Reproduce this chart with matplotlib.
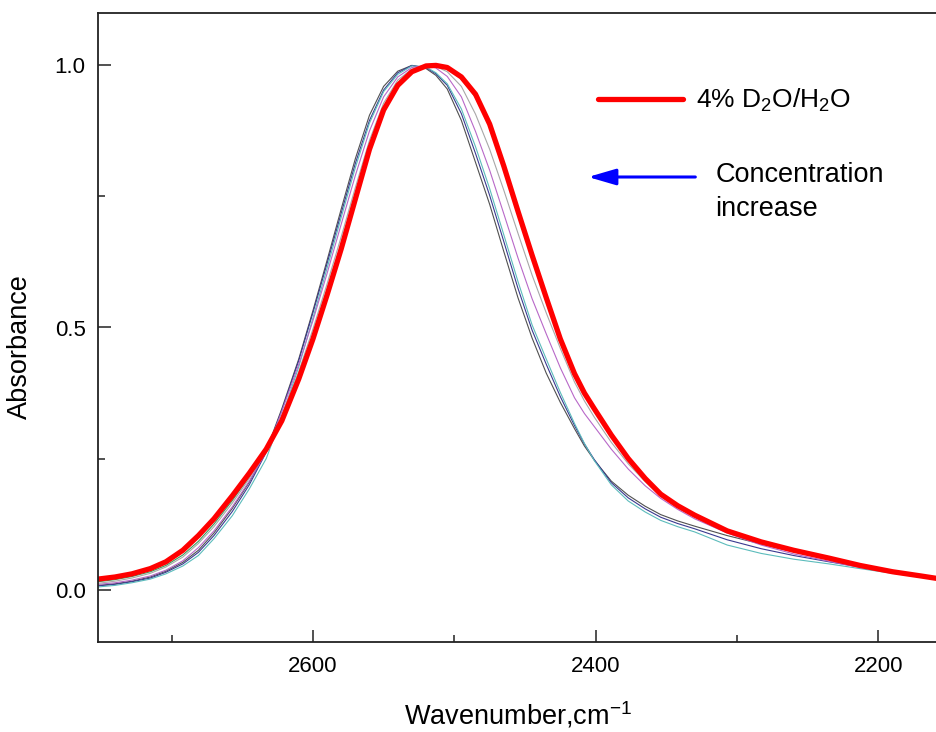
import numpy as np
import matplotlib
matplotlib.use("Agg")
import matplotlib.pyplot as plt

plt.rcParams['font.family'] = ['Liberation Sans', 'DejaVu Sans']
plt.rcParams['mathtext.fontset'] = 'custom'
plt.rcParams['mathtext.rm'] = 'Liberation Sans'
plt.rcParams['mathtext.it'] = 'Liberation Sans:italic'
plt.rcParams['mathtext.bf'] = 'Liberation Sans:bold'

# Wavenumber grid (cm^-1)
wavenumber = [2752, 2740, 2728, 2715, 2704, 2692, 2681, 2670, 2657, 2645, 2633, 2622, 2610,
              2600, 2590, 2580, 2570, 2560, 2550, 2540, 2530, 2520, 2513, 2505, 2495, 2485,
              2475, 2465, 2455, 2445, 2435, 2425, 2415, 2408, 2401, 2389, 2377, 2365, 2354,
              2342, 2330, 2307, 2283, 2260, 2235, 2213, 2190, 2170, 2158]

abs_black = [0.008, 0.011, 0.016, 0.024, 0.035, 0.052, 0.075, 0.108, 0.155, 0.205, 0.265, 0.345, 0.440,
             0.532, 0.628, 0.726, 0.822, 0.905, 0.960, 0.989, 1.000, 0.994, 0.981, 0.955, 0.895, 0.815,
             0.735, 0.645, 0.557, 0.480, 0.413, 0.357, 0.307, 0.274, 0.247, 0.207, 0.180, 0.159, 0.143,
             0.131, 0.121, 0.103, 0.087, 0.072, 0.058, 0.045, 0.034, 0.026, 0.021]
abs_navy = [0.007, 0.010, 0.015, 0.022, 0.033, 0.049, 0.071, 0.103, 0.149, 0.200, 0.262, 0.342, 0.437,
            0.528, 0.622, 0.718, 0.813, 0.895, 0.953, 0.986, 1.000, 0.996, 0.984, 0.962, 0.908, 0.832,
            0.752, 0.664, 0.575, 0.495, 0.430, 0.368, 0.313, 0.278, 0.248, 0.204, 0.175, 0.154, 0.138,
            0.126, 0.116, 0.095, 0.078, 0.065, 0.053, 0.043, 0.033, 0.025, 0.020]
abs_cyan = [0.005, 0.008, 0.013, 0.020, 0.030, 0.045, 0.065, 0.097, 0.141, 0.192, 0.250, 0.330, 0.425,
            0.518, 0.613, 0.710, 0.805, 0.890, 0.950, 0.983, 0.999, 0.997, 0.986, 0.965, 0.917, 0.845,
            0.765, 0.677, 0.588, 0.505, 0.440, 0.376, 0.317, 0.279, 0.246, 0.200, 0.169, 0.148, 0.132,
            0.120, 0.110, 0.085, 0.069, 0.058, 0.049, 0.040, 0.031, 0.024, 0.020]
abs_magenta = [0.010, 0.013, 0.018, 0.026, 0.037, 0.055, 0.080, 0.112, 0.158, 0.207, 0.263, 0.340, 0.430,
               0.513, 0.603, 0.697, 0.790, 0.875, 0.940, 0.978, 0.996, 1.000, 0.995, 0.979, 0.940, 0.874,
               0.800, 0.717, 0.633, 0.555, 0.488, 0.423, 0.366, 0.336, 0.311, 0.268, 0.230, 0.198, 0.174,
               0.153, 0.135, 0.108, 0.085, 0.068, 0.054, 0.042, 0.032, 0.025, 0.020]
abs_gray = [0.012, 0.016, 0.022, 0.031, 0.043, 0.062, 0.088, 0.120, 0.165, 0.212, 0.265, 0.333, 0.416,
            0.497, 0.583, 0.673, 0.767, 0.857, 0.928, 0.972, 0.993, 1.000, 0.998, 0.988, 0.960, 0.907,
            0.840, 0.762, 0.680, 0.600, 0.528, 0.460, 0.396, 0.360, 0.329, 0.281, 0.240, 0.206, 0.179,
            0.157, 0.139, 0.110, 0.089, 0.073, 0.058, 0.045, 0.034, 0.026, 0.021]
abs_green = [0.015, 0.019, 0.025, 0.034, 0.046, 0.066, 0.092, 0.125, 0.170, 0.216, 0.266, 0.325, 0.404,
             0.482, 0.565, 0.654, 0.750, 0.848, 0.920, 0.966, 0.990, 1.000, 0.999, 0.994, 0.974, 0.939,
             0.883, 0.804, 0.718, 0.634, 0.553, 0.476, 0.410, 0.373, 0.343, 0.292, 0.248, 0.210, 0.181,
             0.159, 0.141, 0.111, 0.090, 0.074, 0.059, 0.046, 0.034, 0.026, 0.021]
abs_red = [0.020, 0.024, 0.030, 0.040, 0.053, 0.075, 0.103, 0.135, 0.179, 0.222, 0.268, 0.322, 0.402,
           0.478, 0.562, 0.650, 0.745, 0.840, 0.915, 0.962, 0.988, 0.999, 1.000, 0.996, 0.978, 0.945,
           0.888, 0.808, 0.722, 0.638, 0.557, 0.478, 0.412, 0.375, 0.345, 0.295, 0.250, 0.212, 0.182,
           0.160, 0.142, 0.112, 0.091, 0.075, 0.060, 0.046, 0.034, 0.026, 0.021]

thin_series = [(abs_black, '#505050'), (abs_navy, '#3a3a90'), (abs_cyan, '#5cbcbc'),
               (abs_magenta, '#b868c8'), (abs_gray, '#a8a8a8'), (abs_green, '#3c9c5c')]

legend_label = '4% D$\\mathregular{_2}$O/H$\\mathregular{_2}$O'
arrow_label = 'Concentration\nincrease'
x_ticks = [2600, 2400, 2200]
y_ticks = [0.0, 0.5, 1.0]

fig = plt.figure(figsize=(9.36, 7.32), dpi=100)
ax = fig.add_axes([98/936, 1 - 642/732, (936 - 98)/936 + 0.002, (642 - 13)/732])

for vals, col in thin_series:
    ax.plot(wavenumber, vals, color=col, lw=0.8, solid_joinstyle='round')
ax.plot(wavenumber, abs_red, color='#ff0000', lw=3.8, label=legend_label,
        solid_capstyle='round', solid_joinstyle='round')

ax.set_xlim(2752, 2158)
ax.set_ylim(-0.1, 1.1)
ax.set_xticks(x_ticks)
ax.set_xticks([2700, 2500, 2300], minor=True)
ax.set_yticks(y_ticks)
ax.set_yticks([0.25, 0.75], minor=True)
ax.set_yticklabels(['0.0', '0.5', '1.0'])
ax.tick_params(which='both', direction='in', width=1.1, labelsize=16, color='#222222')
ax.tick_params(which='major', length=9)
ax.tick_params(which='minor', length=5)
ax.tick_params(axis='x', pad=10)
ax.tick_params(axis='y', pad=9)
ax.tick_params(top=False, right=False)
for s in ['left', 'bottom', 'top']:
    ax.spines[s].set_linewidth(1.3)
    ax.spines[s].set_color('#222222')
ax.spines['right'].set_visible(False)

ax.set_xlabel('Wavenumber,cm$\\mathregular{^{-1}}$', fontsize=19.5)
ax.set_ylabel('Absorbance', fontsize=19.5)
ax.xaxis.set_label_coords(0.5, -0.0922)
ax.yaxis.set_label_coords(-0.0776, 0.4698)

leg = ax.legend(loc='center left', bbox_to_anchor=((597 - 98)/838, (642 - 100.7)/629),
                frameon=False, fontsize=19, handlelength=3.2, handletextpad=0.5,
                borderpad=0, borderaxespad=0)

ax.annotate('', xy=((587 - 98)/838, (642 - 177)/629), xytext=((694 - 98)/838, (642 - 177)/629),
            xycoords='axes fraction',
            arrowprops=dict(arrowstyle='-|>,head_length=1.2,head_width=0.35', color='#0000ff',
                            lw=2.2, mutation_scale=14, shrinkA=0, shrinkB=0))
ax.text((714 - 98)/838, (642 - 192)/629, arrow_label, transform=ax.transAxes,
        fontsize=19.5, va='center', ha='left', linespacing=1.4)

fig.savefig('out.png', dpi=100)
